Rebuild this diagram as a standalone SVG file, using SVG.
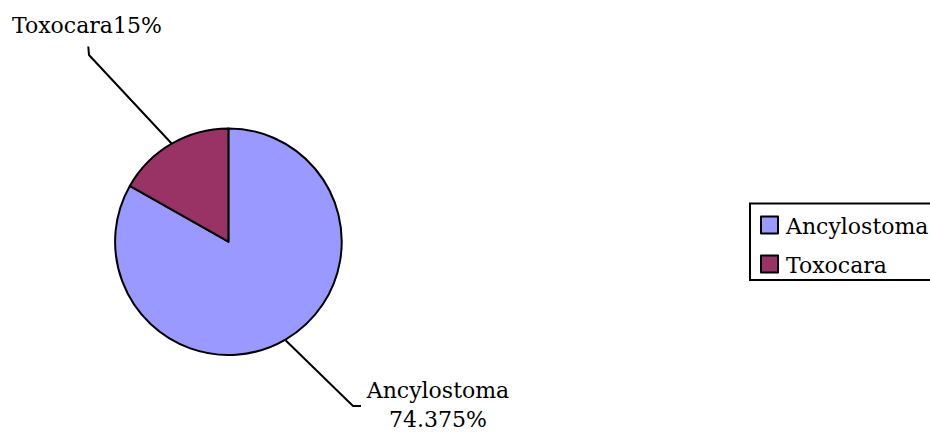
<svg xmlns="http://www.w3.org/2000/svg" width="930" height="432" viewBox="0 0 930 432">
<style>
text{font-family:"DejaVu Serif","Liberation Serif",serif;font-size:22px;fill:#000}
.sl{stroke:#000;stroke-width:2;stroke-linejoin:round}
.ld{fill:none;stroke:#000;stroke-width:2}
.a{fill:#9999FF}
.t{fill:#993366}
</style>
<rect width="930" height="432" fill="#fff"/>
<g id="pie">
<g id="slice-ancylostoma"><path class="sl a" d="M228.4,241.7 L228.4,128.4 A113.3,113.3 0 1 1 129.8,185.9 Z"/></g>
<g id="slice-toxocara"><path class="sl t" d="M228.4,241.7 L228.4,128.4 A113.3,113.3 0 0 0 129.8,185.9 Z"/></g>
</g>
<g id="connectors">
<path class="ld" d="M88.3,46.5 L89,55 L171.6,143.5"/>
<path class="ld" d="M285.8,340.5 L353,406 L361,406"/>
</g>
<g id="label-toxocara"><text x="12" y="32.5">Toxocara15%</text></g>
<g id="label-ancylostoma">
<text x="438" y="398" text-anchor="middle">Ancylostoma</text>
<text x="438" y="427" text-anchor="middle">74.375%</text>
</g>
<g id="legend">
<rect x="750" y="203.5" width="200" height="76.5" fill="#fff" stroke="#000" stroke-width="2"/>
<rect class="sl a" x="761" y="216.5" width="17" height="17"/>
<text x="786" y="233.5">Ancylostoma</text>
<rect class="sl t" x="761" y="255.5" width="17" height="17"/>
<text x="786" y="272.5">Toxocara</text>
</g>
</svg>
